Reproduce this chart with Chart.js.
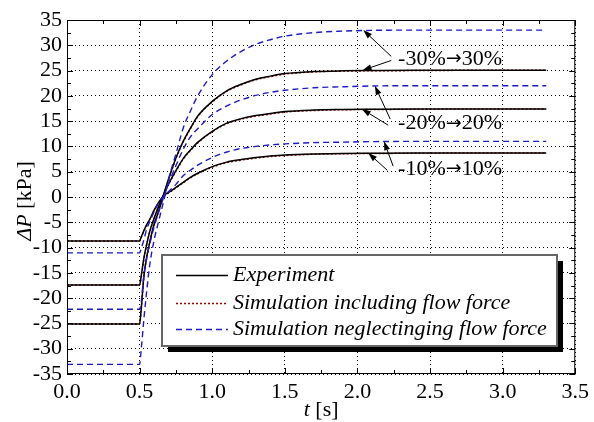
<!DOCTYPE html>
<html><head><meta charset="utf-8">
<script src="https://cdn.jsdelivr.net/npm/chart.js@4.4.0/dist/chart.umd.min.js"></script>
<style>html,body{margin:0;padding:0;background:#fff;}</style>
</head><body>
<canvas id="c" width="594" height="422"></canvas>
<script>
// ---- data ----
const time      = [0, 0.5, 0.51, 0.53, 0.55, 0.57, 0.6, 0.63, 0.67, 0.7, 0.75, 0.8, 0.85, 0.9, 1.0, 1.1, 1.2, 1.3, 1.4, 1.5, 1.7, 1.9, 2.1, 2.4, 2.8, 3.3];
// Experiment
const expLow    = [-8.7, -8.7, -8.0, -6.6, -5.4, -4.4, -2.6, -1.1, 0.4, 0.9, 1.9, 2.9, 3.9, 4.7, 6.0, 6.9, 7.4, 7.8, 8.1, 8.3, 8.5, 8.6, 8.65, 8.7, 8.7, 8.7];
const expMid    = [-17.4, -17.4, -15.8, -12.0, -9.2, -6.8, -4.2, -1.9, 0.8, 2.6, 5.2, 7.6, 9.3, 10.8, 13.0, 14.6, 15.5, 16.1, 16.5, 16.9, 17.2, 17.3, 17.35, 17.4, 17.4, 17.4];
const expHigh   = [-25.1, -25.1, -22.5, -15.5, -11.7, -8.9, -5.4, -2.9, 0.9, 3.6, 7.7, 11.0, 13.6, 16.0, 18.9, 21.0, 22.3, 23.3, 23.9, 24.4, 24.8, 24.95, 25.0, 25.05, 25.05, 25.05];
// Simulation including flow force
const incLow    = [-8.7, -8.7, -8.1, -6.7, -5.5, -4.5, -2.7, -1.2, 0.3, 0.8, 1.8, 2.8, 3.8, 4.6, 5.9, 6.8, 7.3, 7.7, 8.0, 8.2, 8.45, 8.55, 8.6, 8.65, 8.7, 8.7];
const incMid    = [-17.4, -17.4, -15.9, -12.2, -9.3, -6.9, -4.3, -2.0, 0.7, 2.5, 5.1, 7.5, 9.2, 10.7, 12.9, 14.5, 15.4, 16.0, 16.4, 16.8, 17.1, 17.25, 17.3, 17.35, 17.4, 17.4];
const incHigh   = [-25.1, -25.1, -22.6, -15.7, -11.8, -9.0, -5.5, -3.0, 0.8, 3.5, 7.6, 10.9, 13.5, 15.9, 18.8, 20.9, 22.2, 23.2, 23.8, 24.3, 24.75, 24.9, 24.95, 25.0, 25.05, 25.05];
// Simulation neglecting flow force
const negLow    = [-11.05, -11.05, -10.3, -8.4, -6.2, -4.9, -2.9, -1.2, 0.3, 1.1, 2.5, 4.2, 5.3, 6.3, 7.8, 8.9, 9.6, 10.0, 10.3, 10.5, 10.75, 10.85, 10.95, 11.0, 11.0, 11.0];
const negMid    = [-22.2, -22.2, -21.0, -15.4, -12.0, -9.3, -5.9, -3.1, 0.3, 2.7, 6.2, 9.4, 11.9, 13.5, 16.3, 18.0, 19.2, 20.1, 20.7, 21.1, 21.6, 21.8, 21.95, 22.0, 22.0, 22.0];
const negHigh   = [-33.1, -33.1, -30.5, -24.0, -18.3, -13.4, -8.5, -4.9, -0.3, 3.6, 8.5, 13.6, 17.0, 20.0, 24.2, 26.9, 28.8, 30.2, 31.1, 31.8, 32.5, 32.8, 32.95, 33.0, 33.0, 33.0];

const seriesNames = ['Experiment', 'Simulation including flow force', 'Simulation neglectinging flow force'];
const caseFrom    = ['-30%', '-20%', '-10%'];
const caseTo      = ['30%', '20%', '10%'];
const xTickValues = [0, 0.5, 1.0, 1.5, 2.0, 2.5, 3.0, 3.5];
const yTickValues = [-35, -30, -25, -20, -15, -10, -5, 0, 5, 10, 15, 20, 25, 30, 35];

// ---- styles ----
const SERIF = '"Liberation Serif", "DejaVu Serif", serif';
const BLACK = '#000000', RED = '#a00000', BLUE = '#1c1cc0';
const styleFor = [
  {color: BLACK, dash: [], width: 1.5},
  {color: RED, dash: [2, 2], width: 1.5},
  {color: BLUE, dash: [6, 4], width: 1.4}
];

function pts(arr) { return time.map((t, i) => ({x: t, y: arr[i]})); }
function ds(arr, s) {
  const st = styleFor[s];
  return {label: seriesNames[s], data: pts(arr), borderColor: st.color, borderDash: st.dash,
    borderWidth: st.width, pointRadius: 0, fill: false, cubicInterpolationMode: 'monotone'};
}

// annotation layout (data coordinates)
const notes = [
  {i: 0, t: 2.28, v: 27.3, arrows: [[2.233, 27.8, 2.04, 33.0], [2.233, 27.0, 2.035, 25.05]]},
  {i: 1, t: 2.28, v: 14.5, arrows: [[2.226, 15.4, 2.12, 22.0], [2.212, 14.2, 2.03, 17.4]]},
  {i: 2, t: 2.28, v: 5.5, arrows: [[2.246, 6.1, 2.183, 11.0], [2.205, 5.3, 2.074, 8.7]]}
];

function arrow(ctx, x1, y1, x2, y2) {
  const a = Math.atan2(y2 - y1, x2 - x1), L = 9, W = 3;
  const bx = x2 - L * Math.cos(a), by = y2 - L * Math.sin(a);
  ctx.beginPath(); ctx.moveTo(x1, y1); ctx.lineTo(bx, by); ctx.stroke();
  ctx.beginPath(); ctx.moveTo(x2, y2);
  ctx.lineTo(bx + W * Math.sin(a), by - W * Math.cos(a));
  ctx.lineTo(bx - W * Math.sin(a), by + W * Math.cos(a));
  ctx.closePath(); ctx.fill();
}

function mixedText(ctx, parts, x0, cy, centered) {
  let total = 0;
  parts.forEach(p => { ctx.font = p.font; p.w = ctx.measureText(p.text).width; total += p.w; });
  let x = centered ? x0 - total / 2 : x0;
  ctx.textAlign = 'left'; ctx.textBaseline = 'middle';
  parts.forEach(p => { ctx.font = p.font; ctx.fillText(p.text, x, cy); x += p.w; });
}

const decor = {
  id: 'decor',
  afterDraw(chart) {
    const ctx = chart.ctx, a = chart.chartArea, xs = chart.scales.x, ys = chart.scales.y;
    ctx.save();
    ctx.strokeStyle = '#000'; ctx.fillStyle = '#000'; ctx.setLineDash([]); ctx.lineWidth = 1;
    // frame
    ctx.strokeRect(a.left + 0.5, a.top + 0.5, a.right - a.left - 1, a.bottom - a.top - 1);
    // ticks (inward) on all sides
    ctx.beginPath();
    for (let v = 0; v <= 3.5001; v += 0.25) {
      const x = Math.round(xs.getPixelForValue(v)) + 0.5;
      const major = Math.abs(v * 2 - Math.round(v * 2)) < 1e-6;
      const L = major ? 6 : 4;
      ctx.moveTo(x, a.bottom); ctx.lineTo(x, a.bottom - L);
      ctx.moveTo(x, a.top); ctx.lineTo(x, a.top + L);
    }
    for (let v = -35; v <= 35.001; v += 2.5) {
      const y = Math.round(ys.getPixelForValue(v)) + 0.5;
      const major = Math.abs(v / 5 - Math.round(v / 5)) < 1e-6;
      const L = major ? 6 : 4;
      ctx.moveTo(a.left, y); ctx.lineTo(a.left + L, y);
      ctx.moveTo(a.right, y); ctx.lineTo(a.right - L, y);
    }
    ctx.stroke();

    // axis titles
    ctx.fillStyle = '#000';
    mixedText(ctx, [{text: 't', font: 'italic 22px ' + SERIF}, {text: ' [s]', font: '22px ' + SERIF}],
      (a.left + a.right) / 2, 410, true);
    ctx.save();
    ctx.translate(25, 201);
    ctx.rotate(-Math.PI / 2);
    mixedText(ctx, [{text: '\u0394P', font: 'italic 22px ' + SERIF}, {text: ' [kPa]', font: '22px ' + SERIF}], 0, 0, true);
    ctx.restore();

    // annotations
    ctx.lineWidth = 1;
    notes.forEach(n => {
      n.arrows.forEach(r => arrow(ctx, xs.getPixelForValue(r[0]), ys.getPixelForValue(r[1]),
        xs.getPixelForValue(r[2]), ys.getPixelForValue(r[3])));
      ctx.fillStyle = '#000';
      mixedText(ctx, [
        {text: caseFrom[n.i], font: '22px ' + SERIF},
        {text: '\u2192', font: '19px "DejaVu Sans", sans-serif'},
        {text: caseTo[n.i], font: '22px ' + SERIF}
      ], xs.getPixelForValue(n.t), ys.getPixelForValue(n.v), false);
    });

    // legend box with shadow
    const bx = 162, by = 255, bw = 395, bh = 91;
    ctx.fillStyle = '#000';
    ctx.fillRect(bx + 6, by + 6, bw, bh);
    ctx.fillStyle = '#fff';
    ctx.fillRect(bx, by, bw, bh);
    ctx.strokeStyle = '#666'; ctx.lineWidth = 2;
    ctx.strokeRect(bx, by, bw, bh);
    const rows = [275, 303, 329];
    rows.forEach((ry, i) => {
      const st = styleFor[i];
      ctx.strokeStyle = st.color; ctx.lineWidth = st.width; ctx.setLineDash(st.dash);
      ctx.beginPath(); ctx.moveTo(176, ry + 0.5); ctx.lineTo(228, ry + 0.5); ctx.stroke();
      ctx.setLineDash([]);
      ctx.fillStyle = '#000'; ctx.font = 'italic 22px ' + SERIF;
      ctx.textAlign = 'left'; ctx.textBaseline = 'middle';
      ctx.fillText(seriesNames[i], 233, ry);
    });
    ctx.restore();
  }
};

new Chart(document.getElementById('c'), {
  type: 'line',
  data: {
    datasets: [
      ds(negLow, 2), ds(negMid, 2), ds(negHigh, 2),
      ds(expLow, 0), ds(expMid, 0), ds(expHigh, 0),
      ds(incLow, 1), ds(incMid, 1), ds(incHigh, 1)
    ]
  },
  options: {
    responsive: false, animation: false, devicePixelRatio: 1,
    layout: {padding: {top: 20, right: 13, left: 0, bottom: 0}},
    plugins: {legend: {display: false}, tooltip: {enabled: false}, title: {display: false}},
    scales: {
      x: {
        type: 'linear', min: 0, max: 3.5,
        afterBuildTicks: s => { s.ticks = xTickValues.map(v => ({value: v})); },
        afterFit: s => { s.height = 48; },
        ticks: {padding: 5, color: '#000', font: {family: SERIF, size: 22}, maxRotation: 0, autoSkip: false,
          callback: v => Number(v).toFixed(1)},
        grid: {color: '#000', lineWidth: 1, drawTicks: false},
        border: {display: false, dash: [1, 3]}
      },
      y: {
        type: 'linear', min: -35, max: 35,
        afterBuildTicks: s => { s.ticks = yTickValues.map(v => ({value: v})); },
        afterFit: s => { s.width = 67; },
        ticks: {padding: 5, color: '#000', font: {family: SERIF, size: 22}, autoSkip: false},
        grid: {color: '#000', lineWidth: 1, drawTicks: false},
        border: {display: false, dash: [1, 3]}
      }
    }
  },
  plugins: [decor]
});
</script>
</body></html>
